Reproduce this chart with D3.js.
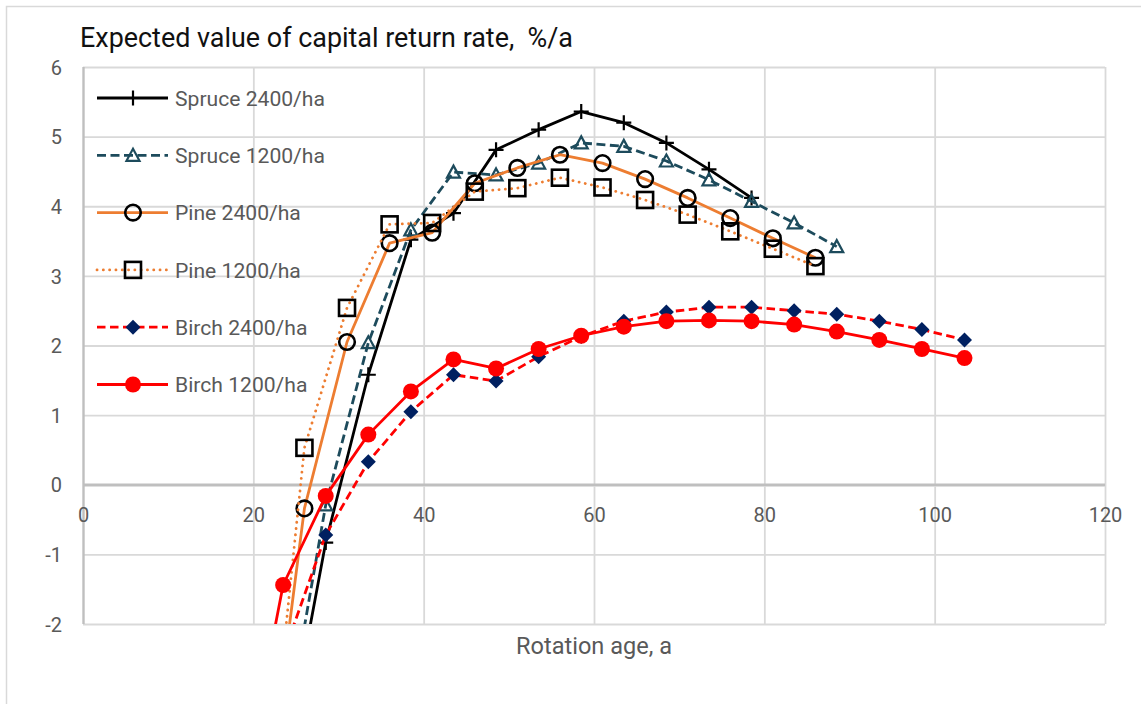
<!DOCTYPE html>
<html><head><meta charset="utf-8">
<script src="https://cdn.jsdelivr.net/npm/d3@7"></script>
<style>body{margin:0;background:#fff;} svg{display:block;font-family:Roboto,"Liberation Sans",sans-serif;} text{white-space:pre;}</style>
</head><body><svg id="c" width="1141" height="704"></svg>
<script>
// ---- data ----
const xTicks = [0, 20, 40, 60, 80, 100, 120];
const yTicks = [-2, -1, 0, 1, 2, 3, 4, 5, 6];

const spruceAges2400 = [23.5, 28.5, 33.5, 38.5, 43.5, 48.5, 53.5, 58.5, 63.5, 68.5, 73.5, 78.5];
const spruce2400 = [-4.1, -0.83, 1.58, 3.52, 3.90, 4.81, 5.10, 5.36, 5.20, 4.91, 4.53, 4.12];

const spruceAges1200 = [23.5, 28.5, 33.5, 38.5, 43.5, 48.5, 53.5, 58.5, 63.5, 68.5, 73.5, 78.5, 83.5, 88.5];
const spruce1200 = [-3.78, -0.29, 2.04, 3.66, 4.49, 4.45, 4.62, 4.91, 4.86, 4.65, 4.38, 4.07, 3.76, 3.42];

const pineAges = [21, 26, 31, 36, 41, 46, 51, 56, 61, 66, 71, 76, 81, 86];
const pine2400 = [-5.1, -0.34, 2.05, 3.47, 3.62, 4.33, 4.55, 4.74, 4.62, 4.39, 4.12, 3.83, 3.54, 3.26];
const pine1200 = [-5.4, 0.53, 2.54, 3.74, 3.76, 4.21, 4.26, 4.41, 4.27, 4.09, 3.88, 3.64, 3.39, 3.14];

const birchAges2400 = [23.5, 28.5, 33.5, 38.5, 43.5, 48.5, 53.5, 58.5, 63.5, 68.5, 73.5, 78.5, 83.5, 88.5, 93.5, 98.5, 103.5];
const birch2400 = [-2.45, -0.72, 0.33, 1.05, 1.58, 1.49, 1.84, 2.13, 2.35, 2.48, 2.55, 2.55, 2.50, 2.45, 2.35, 2.23, 2.08];

const birchAges1200 = [18.5, 23.5, 28.5, 33.5, 38.5, 43.5, 48.5, 53.5, 58.5, 63.5, 68.5, 73.5, 78.5, 83.5, 88.5, 93.5, 98.5, 103.5];
const birch1200 = [-4.6, -1.44, -0.16, 0.72, 1.34, 1.80, 1.67, 1.95, 2.14, 2.27, 2.35, 2.36, 2.35, 2.30, 2.20, 2.08, 1.95, 1.82];

const seriesNames = ["Spruce 2400/ha", "Spruce 1200/ha", "Pine 2400/ha", "Pine 1200/ha", "Birch 2400/ha", "Birch 1200/ha"];
const titleText = "Expected value of capital return rate,  %/a";
const xTitleText = "Rotation age, a";

// ---- styles ----
const styles = [
  {color:"#000000", dash:null, cap:"butt", marker:"plus", mStroke:"#000000", mFill:"none"},
  {color:"#1d4b5c", dash:"9,4.5", cap:"butt", marker:"triangle", mStroke:"#1d4b5c", mFill:"none"},
  {color:"#ed7d31", dash:null, cap:"butt", marker:"circle", mStroke:"#000000", mFill:"none"},
  {color:"#ed7d31", dash:"0.1,6.2", cap:"round", marker:"square", mStroke:"#000000", mFill:"none"},
  {color:"#ff0000", dash:"8.5,4.5", cap:"butt", marker:"diamond", mStroke:"#002060", mFill:"#002060"},
  {color:"#ff0000", dash:null, cap:"butt", marker:"dot", mStroke:"#ff0000", mFill:"#ff0000"}
];
const seriesData = [
  [spruceAges2400, spruce2400], [spruceAges1200, spruce1200],
  [pineAges, pine2400], [pineAges, pine1200],
  [birchAges2400, birch2400], [birchAges1200, birch1200]
];

const svg = d3.select("#c");
const P = {l:83, r:1105, t:67, b:624};
const x = d3.scaleLinear().domain([0,120]).range([P.l,P.r]);
const y = d3.scaleLinear().domain([-2,6]).range([P.b,P.t]);
const fmt = d => String(d);

// chart border
svg.append("rect").attr("x",6.5).attr("y",6.5).attr("width",1200).attr("height",800)
  .attr("fill","none").attr("stroke","#d9d9d9").attr("stroke-width",1.5);

function fitText(sel, target){
  const fs = parseFloat(sel.attr("font-size"));
  const w = sel.node().getComputedTextLength();
  sel.attr("font-size", (fs*target/w).toFixed(2));
}

// title
const title = svg.append("text").attr("x",80).attr("y",47).attr("font-size",24).attr("fill","#111").text(titleText);
fitText(title, 493);

// gridlines + y tick labels
const gy = svg.append("g").attr("transform",`translate(${P.l},0)`)
  .call(d3.axisLeft(y).tickValues(yTicks).tickSize(-(P.r-P.l)).tickPadding(21).tickFormat(fmt));
gy.select(".domain").remove();
gy.selectAll("line").attr("stroke", d => d===0 ? "#bfbfbf" : "#d9d9d9").attr("stroke-width", d => d===0 ? 2.4 : 1.8);
gy.selectAll("text").attr("font-size",20).attr("fill","#595959").attr("font-family","Roboto").attr("dy","0.36em");

const gx = svg.append("g").attr("transform",`translate(0,${P.b})`)
  .call(d3.axisBottom(x).tickValues(xTicks).tickSize(-(P.b-P.t)).tickFormat(""));
gx.select(".domain").remove();
gx.selectAll("line").attr("stroke", d => d===0 ? "#bfbfbf" : "#d9d9d9").attr("stroke-width", d => d===0 ? 2.4 : 1.8);
svg.append("line").attr("x1",P.l).attr("x2",P.r).attr("y1",y(0)).attr("y2",y(0)).attr("stroke","#bfbfbf").attr("stroke-width",2.4);

// x tick labels along the zero axis
const gxl = svg.append("g").attr("transform",`translate(0,${y(0)})`)
  .call(d3.axisBottom(x).tickValues(xTicks).tickSize(0).tickFormat(fmt));
gxl.select(".domain").remove();
gxl.selectAll("text").attr("font-size",20).attr("fill","#595959").attr("font-family","Roboto").attr("y",30).attr("dy","0.36em");

// x title
const xt = svg.append("text").attr("x",594).attr("y",654).attr("text-anchor","middle").attr("font-size",24).attr("fill","#595959").text(xTitleText);
fitText(xt, 156);

// clip
svg.append("clipPath").attr("id","plotclip").append("rect")
  .attr("x",P.l).attr("y",P.t).attr("width",P.r-P.l).attr("height",P.b-P.t);
const plot = svg.append("g").attr("clip-path","url(#plotclip)");

function drawMarker(g, type, st, cx, cy){
  if(type==="plus"){
    g.append("path").attr("d",`M${cx-7.5},${cy}H${cx+7.5}M${cx},${cy-7.5}V${cy+7.5}`).attr("stroke",st.mStroke).attr("stroke-width",2.2).attr("fill","none");
  } else if(type==="triangle"){
    g.append("path").attr("d",`M${cx},${cy-6.5}L${cx+6.5},${cy+5.5}L${cx-6.5},${cy+5.5}Z`).attr("stroke",st.mStroke).attr("stroke-width",2.2).attr("fill","none");
  } else if(type==="circle"){
    g.append("circle").attr("cx",cx).attr("cy",cy).attr("r",7.8).attr("stroke",st.mStroke).attr("stroke-width",2.6).attr("fill","none");
  } else if(type==="square"){
    g.append("rect").attr("x",cx-8).attr("y",cy-8).attr("width",16).attr("height",16).attr("stroke",st.mStroke).attr("stroke-width",2.6).attr("fill","none");
  } else if(type==="diamond"){
    g.append("path").attr("d",`M${cx},${cy-7.5}L${cx+7.5},${cy}L${cx},${cy+7.5}L${cx-7.5},${cy}Z`).attr("fill",st.mFill);
  } else if(type==="dot"){
    g.append("circle").attr("cx",cx).attr("cy",cy).attr("r",8).attr("fill",st.mFill);
  }
}

const line = d3.line().x(d=>x(d[0])).y(d=>y(d[1]));
seriesData.forEach(([xs, ys], i) => {
  const st = styles[i];
  const pts = xs.map((a,k)=>[a, ys[k]]);
  const g = plot.append("g");
  g.append("path").datum(pts).attr("d",line).attr("fill","none").attr("stroke",st.color)
    .attr("stroke-width",2.8).attr("stroke-dasharray",st.dash).attr("stroke-linecap",st.cap).attr("stroke-linejoin","round");
  pts.forEach(p => drawMarker(g, st.marker, st, x(p[0]), y(p[1])));
});

// legend
const legY0 = 98, legDy = 57.3;
let legFs = null;
seriesNames.forEach((name,i) => {
  const st = styles[i];
  const ly = legY0 + i*legDy;
  const g = svg.append("g");
  g.append("line").attr("x1",97).attr("x2",168).attr("y1",ly).attr("y2",ly).attr("stroke",st.color)
    .attr("stroke-width",2.8).attr("stroke-dasharray",st.dash).attr("stroke-linecap",st.cap);
  drawMarker(g, st.marker, st, 133, ly);
  const t = g.append("text").attr("x",175).attr("y",ly).attr("dy","0.36em").attr("font-size",21).attr("fill","#595959").text(name);
  if(i===0){ fitText(t, 150); legFs = t.attr("font-size"); }
  else t.attr("font-size", legFs);
});
</script></body></html>
